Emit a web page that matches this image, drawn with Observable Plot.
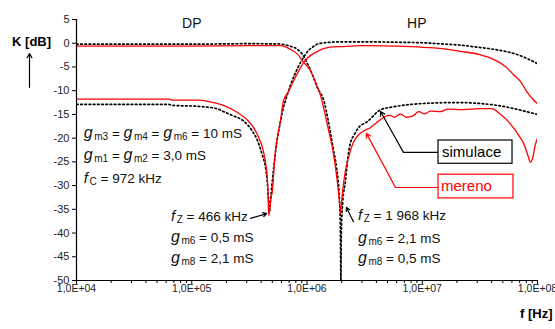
<!DOCTYPE html>
<html><head><meta charset="utf-8">
<script src="https://cdn.jsdelivr.net/npm/d3@7"></script>
<script src="https://cdn.jsdelivr.net/npm/@observablehq/plot@0.6"></script>
<style>body{margin:0;background:#fff}</style>
</head><body><div id="chart"></div>
<script>
// ---- data: [log10(f / Hz), K in dB] ----
const hpMeas = [[4.00,-11.8],[4.81,-11.8],[4.83,-12.0],[5.05,-12.0],[5.15,-12.3],[5.275,-13.1],[5.39,-14.5],[5.475,-16.0],[5.53,-17.5],[5.58,-19.8],[5.62,-22.6],[5.645,-26.0],[5.657,-29.0],[5.664,-33.0],[5.668,-36.3],[5.675,-35.2],[5.688,-32.5],[5.70,-31.0],[5.712,-27.0],[5.727,-22.6],[5.75,-19.0],[5.77,-16.3],[5.796,-12.1],[5.83,-10.6],[5.857,-9.3],[5.89,-7.6],[5.92,-6.2],[5.97,-4.1],[6.01,-3.0],[6.056,-2.2],[6.10,-1.6],[6.15,-1.1],[6.20,-0.8],[6.32,-0.7],[6.46,-0.5],[6.75,-0.6],[6.90,-0.7],[7.10,-1.0],[7.33,-1.7],[7.50,-2.4],[7.62,-3.4],[7.74,-5.3],[7.79,-6.6],[7.85,-8.0],[7.91,-10.3],[7.96,-11.8],[8.00,-12.7]];
const hpSim = [[4.00,-12.9],[4.80,-12.9],[4.84,-13.1],[5.05,-13.3],[5.22,-13.8],[5.275,-14.4],[5.36,-15.3],[5.45,-16.4],[5.52,-18.3],[5.57,-20.5],[5.61,-23.4],[5.64,-26.2],[5.655,-29.0],[5.666,-33.0],[5.674,-35.6],[5.682,-33.5],[5.695,-30.0],[5.71,-26.5],[5.74,-20.5],[5.77,-16.5],[5.796,-13.5],[5.813,-12.1],[5.857,-8.8],[5.90,-6.2],[5.95,-3.8],[5.97,-3.0],[6.01,-1.6],[6.056,-0.7],[6.10,-0.1],[6.20,0.2],[6.30,0.3],[6.50,0.3],[6.80,0.2],[7.00,0.1],[7.20,-0.2],[7.33,-0.4],[7.50,-0.9],[7.65,-1.4],[7.77,-2.0],[7.88,-2.9],[7.95,-3.7],[8.00,-4.3]];
const dpMeas = [[4.00,-0.6],[5.00,-0.6],[5.50,-0.5],[5.77,-0.5],[5.85,-1.2],[5.918,-2.3],[5.97,-4.0],[6.03,-5.8],[6.08,-8.6],[6.117,-11.0],[6.16,-15.3],[6.19,-18.6],[6.23,-23.3],[6.265,-29.6],[6.282,-33.5],[6.291,-35.9],[6.30,-33.5],[6.317,-29.6],[6.34,-26.0],[6.36,-24.1],[6.40,-21.0],[6.44,-19.5],[6.49,-18.5],[6.55,-17.8],[6.60,-16.8],[6.66,-15.7],[6.72,-15.2],[6.76,-15.6],[6.81,-14.9],[6.86,-15.6],[6.92,-15.3],[6.97,-14.4],[7.02,-14.9],[7.07,-14.3],[7.16,-14.4],[7.22,-13.9],[7.35,-14.0],[7.50,-13.8],[7.60,-13.8],[7.68,-15.0],[7.74,-16.3],[7.79,-17.8],[7.85,-19.9],[7.88,-21.1],[7.915,-23.5],[7.94,-25.1],[7.96,-24.0],[7.98,-21.5],[8.00,-20.0]];
const dpSim = [[4.00,-0.2],[5.00,-0.2],[5.50,-0.1],[5.75,-0.15],[5.85,-0.6],[5.918,-1.3],[5.97,-2.7],[6.004,-4.3],[6.05,-6.8],[6.09,-9.3],[6.152,-12.6],[6.18,-15.8],[6.204,-19.0],[6.23,-22.5],[6.256,-26.2],[6.282,-33.2],[6.29,-40.0],[6.294,-50.0],[6.298,-40.0],[6.31,-33.5],[6.334,-29.0],[6.355,-24.0],[6.377,-21.0],[6.41,-19.3],[6.44,-18.0],[6.525,-16.5],[6.64,-14.0],[6.75,-13.4],[6.90,-12.9],[7.10,-12.6],[7.30,-12.5],[7.50,-12.7],[7.65,-13.1],[7.80,-13.8],[7.90,-14.4],[8.00,-15.0]];

const yTicks = [5,0,-5,-10,-15,-20,-25,-30,-35,-40,-45,-50];
const xMajor = [1e4,1e5,1e6,1e7,1e8];
const xTickLabels = ["1,0E+04","1,0E+05","1,0E+06","1,0E+07","1,0E+08"];
const xMinor = [1e4,1e5,1e6,1e7].flatMap(d => [2,3,4,5,6,7,8,9].map(m => m*d));

const FONT = "'Liberation Sans', Arial, Helvetica, sans-serif";
const toPts = a => a.map(([lf,k]) => ({f: 10**lf, k}));

// annotation anchors (Hz, dB)
const simBox = {x1:1.384e7, x2:6.07e7, y1:-20.5, y2:-25.4};
const merBox = {x1:1.384e7, x2:6.19e7, y1:-27.7, y2:-32.7};
const simLeader = [{f:1.384e7,k:-23.0},{f:6.87e6,k:-23.0}];
const simArrow = {x1:6.87e6, y1:-23.0, x2:4.35e6, y2:-14.4};
const merLeader = [{f:1.384e7,k:-30.4},{f:5.86e6,k:-30.4}];
const merArrow = {x1:5.86e6, y1:-30.4, x2:3.28e6, y2:-19.0};
const fzArrows = [{x1:3.24e5,y1:-36.9,x2:4.46e5,y2:-35.9},{x1:2.53e6,y1:-37.6,x2:2.2e6,y2:-34.6}];
const yLabelArrow = {x1:3.91e3, y1:-9.3, x2:3.91e3, y2:-2.2};

const chart = Plot.plot({
  width: 555, height: 329,
  marginLeft: 76, marginRight: 18, marginTop: 19, marginBottom: 49,
  style: {fontFamily: FONT, background: "white", overflow: "visible"},
  x: {type: "log", domain: [1e4, 1e8]},
  y: {domain: [-50, 5]},
  marks: [
    Plot.axisY({ticks: yTicks, tickSize: 4, tickPadding: 3, fontSize: 11, label: null, tickFormat: d => String(d), fill: "#222"}),
    Plot.axisX({ticks: xMinor, tickSize: 3, tickFormat: () => "", label: null}),
    Plot.axisX({ticks: xMajor, tickSize: 4, tickPadding: 0, fontSize: 10.5, label: null, tickFormat: d => xTickLabels[xMajor.indexOf(d)], fill: "#222"}),
    Plot.line(toPts(hpSim), {x: "f", y: "k", stroke: "black", strokeWidth: 1.7, strokeDasharray: "1.6,2.6", curve: "monotone-x", clip: true}),
    Plot.line(toPts(dpSim), {x: "f", y: "k", stroke: "black", strokeWidth: 1.7, strokeDasharray: "1.6,2.6", curve: "monotone-x", clip: true}),
    Plot.line(toPts(hpMeas), {x: "f", y: "k", stroke: "#ff0000", strokeWidth: 1.3, curve: "monotone-x", clip: true}),
    Plot.line(toPts(dpMeas), {x: "f", y: "k", stroke: "#ff0000", strokeWidth: 1.3, curve: "monotone-x", clip: true}),
    Plot.ruleX([1e4], {y1: -50, y2: 5, stroke: "black", strokeWidth: 1.2}),
    Plot.ruleY([-50], {stroke: "black", strokeWidth: 1.2}),
    // legend leaders & boxes
    Plot.line(simLeader, {x: "f", y: "k", stroke: "black", strokeWidth: 1.2}),
    Plot.arrow([simArrow], {x1: "x1", y1: "y1", x2: "x2", y2: "y2", stroke: "black", strokeWidth: 1.2, headLength: 6}),
    Plot.line(merLeader, {x: "f", y: "k", stroke: "#ff0000", strokeWidth: 1.2}),
    Plot.arrow([merArrow], {x1: "x1", y1: "y1", x2: "x2", y2: "y2", stroke: "#ff0000", strokeWidth: 1.2, headLength: 6}),
    Plot.rect([simBox], {x1: "x1", x2: "x2", y1: "y1", y2: "y2", fill: "white", stroke: "black", strokeWidth: 1.2}),
    Plot.rect([merBox], {x1: "x1", x2: "x2", y1: "y1", y2: "y2", fill: "white", stroke: "#ff0000", strokeWidth: 1.2}),
    Plot.arrow(fzArrows, {x1: "x1", y1: "y1", x2: "x2", y2: "y2", stroke: "black", strokeWidth: 1.2, headLength: 5}),
    Plot.arrow([yLabelArrow], {x1: "x1", y1: "y1", x2: "x2", y2: "y2", stroke: "black", strokeWidth: 1.2, headLength: 6})
  ]
});

const sx = chart.scale("x"), sy = chart.scale("y");
const svg = d3.select(chart);
function rich(f, k, parts, {size = 13.5, weight = "normal", fill = "#111"} = {}) {
  const t = svg.append("text")
    .attr("x", sx.apply(f)).attr("y", sy.apply(k))
    .attr("text-anchor", "start")
    .attr("font-size", size).attr("font-family", FONT)
    .attr("font-weight", weight).attr("fill", fill)
    .style("white-space", "pre");
  let shift = 0;
  for (const p of parts) {
    const o = typeof p === "string" ? {t: p} : p;
    const target = o.sub ? 2 : 0;
    const s = t.append("tspan").text(o.t).attr("dy", target - shift);
    shift = target;
    if (o.sub) s.attr("font-size", 10).attr("dx", 1.5);
    if (o.it) s.attr("font-style", "italic").attr("font-size", o.size);
  }
}
const g = {t: "g", it: true, size: 16}, f_ = {t: "f", it: true, size: 15};
const sub = t => ({t, sub: true});

rich(8.32e4, 3.1, ["DP"], {size: 14});
rich(7.45e6, 3.1, ["HP"], {size: 14});
rich(2.79e3, -0.7, ["K [dB]"], {size: 13, weight: "bold", fill: "#000"});
rich(7.13e7, -58.0, ["f [Hz]"], {size: 13, weight: "bold", fill: "#000"});

rich(1.17e4, -20.1, [g, sub("m3"), " = ", g, sub("m4"), " = ", g, sub("m6"), " = 10 mS"]);
rich(1.17e4, -24.7, [g, sub("m1"), " = ", g, sub("m2"), " = 3,0 mS"]);
rich(1.17e4, -29.6, [f_, sub("C"), " = 972 kHz"]);

rich(6.67e4, -37.6, [f_, sub("Z"), " = 466 kHz"]);
rich(6.67e4, -42.0, [g, sub("m6"), " = 0,5 mS"]);
rich(6.67e4, -46.4, [g, sub("m8"), " = 2,1 mS"]);

rich(2.8e6, -37.4, [f_, sub("Z"), " = 1 968 kHz"]);
rich(2.8e6, -42.2, [g, sub("m6"), " = 2,1 mS"]);
rich(2.8e6, -46.4, [g, sub("m8"), " = 0,5 mS"]);

rich(1.5e7, -24.1, ["simulace"], {size: 15, fill: "#000"});
rich(1.47e7, -31.3, ["mereno"], {size: 15, fill: "#ff0000"});

document.getElementById("chart").appendChild(chart);
</script>
</body></html>
